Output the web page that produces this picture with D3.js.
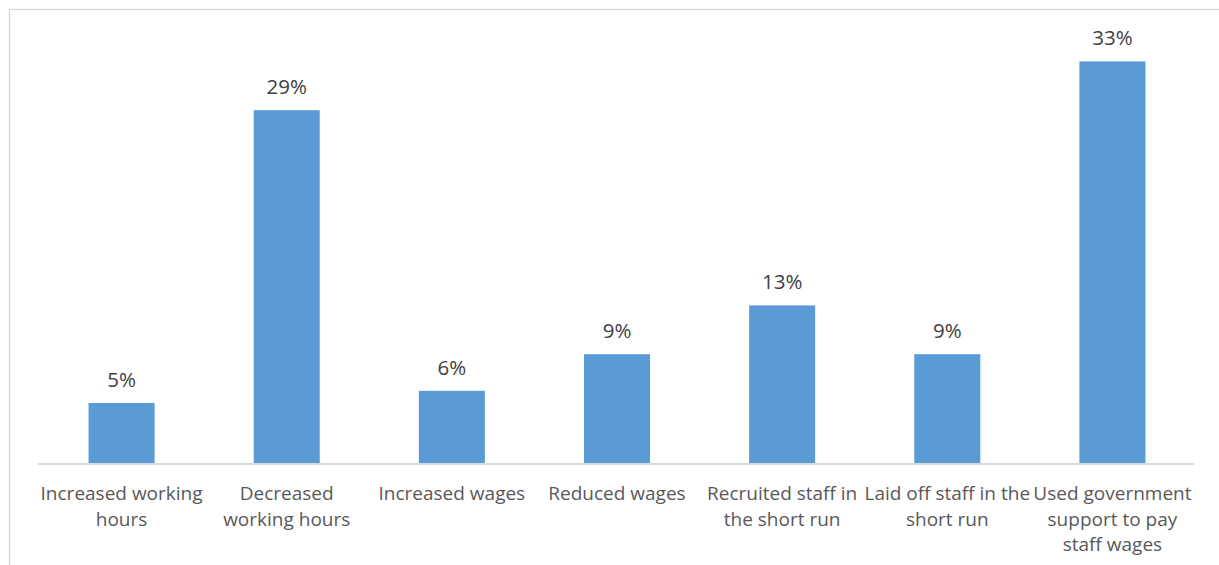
<!DOCTYPE html>
<html>
<head>
<meta charset="utf-8">
<script src="https://cdn.jsdelivr.net/npm/d3@7"></script>
<style>
  html, body { margin: 0; padding: 0; background: #fff; }
  svg { display: block; }
</style>
</head>
<body>
<svg id="chart" width="1219" height="565"></svg>
<script>
// Share of firms taking each staffing action
const categories = [
  ["Increased working", "hours"],
  ["Decreased", "working hours"],
  ["Increased wages"],
  ["Reduced wages"],
  ["Recruited staff in", "the short run"],
  ["Laid off staff in the", "short run"],
  ["Used government", "support to pay", "staff wages"]
];
const values = [5, 29, 6, 9, 13, 9, 33];
const valueLabels = ["5%", "29%", "6%", "9%", "13%", "9%", "33%"];

const W = 1219, H = 565;
const font = "'Open Sans', 'Noto Sans', sans-serif";
const svg = d3.select("#chart");

// chart frame (runs off the right and bottom edges)
svg.append("rect")
  .attr("x", 9.5).attr("y", 9.5)
  .attr("width", W + 20).attr("height", H + 20)
  .attr("fill", "#fff")
  .attr("stroke", "#d9d9d9").attr("stroke-width", 1.5);

const plot = { left: 39, right: 1195, top: 37, bottom: 464 };

const x = d3.scaleBand()
  .domain(d3.range(values.length))
  .range([plot.left, plot.right])
  .paddingInner(0.6).paddingOuter(0.3);

const y = d3.scaleLinear()
  .domain([0, 35])
  .range([plot.bottom, plot.top]);

// bars
svg.append("g").selectAll("rect")
  .data(values)
  .join("rect")
  .attr("x", (d, i) => x(i))
  .attr("y", d => y(d))
  .attr("width", x.bandwidth())
  .attr("height", d => y(0) - y(d))
  .attr("fill", "#5b9bd5");

// category axis
const axis = svg.append("g")
  .attr("transform", `translate(0,${plot.bottom})`)
  .call(d3.axisBottom(x).tickSize(0).tickFormat(""));
axis.select(".domain").attr("stroke", "#d9d9d9").attr("stroke-width", 2)
  .attr("d", `M${plot.left - 1},0H${plot.right - 1}`);

// wrapped category labels
const labels = svg.append("g").selectAll("text")
  .data(categories)
  .join("text")
  .attr("x", (d, i) => x(i) + x.bandwidth() / 2)
  .attr("y", plot.bottom + 36)
  .attr("text-anchor", "middle")
  .attr("font-family", font)
  .attr("font-size", 19)
  .attr("fill", "#595959");
labels.selectAll("tspan")
  .data(d => d)
  .join("tspan")
  .attr("x", function () { return this.parentNode.getAttribute("x"); })
  .attr("dy", (d, j) => j === 0 ? 0 : 25.5)
  .text(d => d);

// value labels above bars
svg.append("g").selectAll("text")
  .data(values)
  .join("text")
  .attr("x", (d, i) => x(i) + x.bandwidth() / 2)
  .attr("y", d => y(d) - 16)
  .attr("text-anchor", "middle")
  .attr("font-family", font)
  .attr("font-size", 20.5)
  .attr("fill", "#404040")
  .text((d, i) => valueLabels[i]);
</script>
</body>
</html>
